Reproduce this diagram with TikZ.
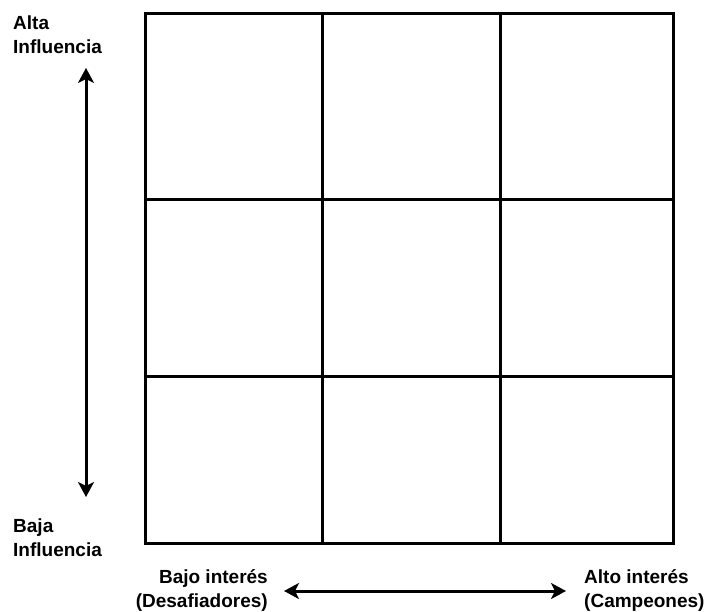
\documentclass[tikz,border=0pt]{standalone}
\usepackage{fontspec}
\setmainfont{Liberation Sans}
\usetikzlibrary{arrows.meta}
\begin{document}
\begin{tikzpicture}[x=1pt,y=-1pt,
  gridline/.style={line width=3pt, line cap=rect},
  axisarrow/.style={line width=3pt, {Stealth[length=15pt,width=16pt,inset=4pt]}-{Stealth[length=15pt,width=16pt,inset=4pt]}},
  lbl/.style={inner sep=0pt, font=\bfseries\fontsize{19}{24}\selectfont}]
\useasboundingbox (0,0) rectangle (712,612);
% 3x3 grid
\draw[gridline] (145,14) rectangle (673,543);
\draw[gridline] (322,14) -- (322,543);
\draw[gridline] (500,14) -- (500,543);
\draw[gridline] (145,200) -- (673,200);
\draw[gridline] (145,376) -- (673,376);
% axis labels
\node[lbl, anchor=north west, align=left] (alta) at (13,16) {Alta\\Influencia};
\node[lbl, anchor=north west, align=left] (baja) at (13,519) {Baja\\Influencia};
\node[lbl, anchor=north east, align=right] (bajoint) at (268,569) {Bajo interés\\(Desafiadores)};
\node[lbl, anchor=north west, align=left] (altoint) at (584,569) {Alto interés\\(Campeones)};
% axis arrows
\coordinate (vtop) at (86,68);
\coordinate (vbot) at (86,497);
\coordinate (hleft) at (284,591);
\coordinate (hright) at (566,591);
\draw[axisarrow] (vtop) -- (vbot);
\draw[axisarrow] (hleft) -- (hright);
\end{tikzpicture}
\end{document}
